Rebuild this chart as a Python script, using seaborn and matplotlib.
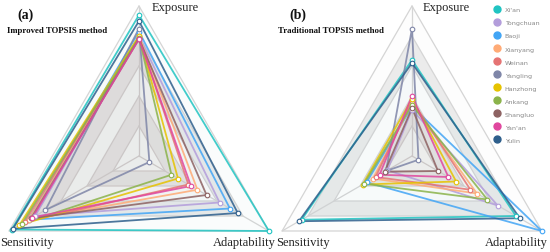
import numpy as np
import pandas as pd
import matplotlib
matplotlib.use("Agg")
import matplotlib.pyplot as plt
import seaborn as sns
from matplotlib.lines import Line2D

sns.set_theme(style="white")

cities = ["Xi'an", "Tongchuan", "Baoji", "Xianyang", "Weinan", "Yangling",
          "Hanzhong", "Ankang", "Shangluo", "Yan'an", "Yulin"]
colors = ["#20c4c2", "#b39ddb", "#42a5f5", "#ffab76", "#e57373", "#7f86a8",
          "#e6c300", "#8bb34a", "#8d6262", "#e0479e", "#2e5f8c"]
dimensions = ["Exposure", "Adaptability", "Sensitivity"]

# (Exposure, Adaptability, Sensitivity)
improved_exposure = [0.94, 0.80, 0.83, 0.80, 0.79, 0.85, 0.80, 0.79, 0.78, 0.78, 0.90]
improved_adapt = [1.00, 0.62, 0.70, 0.45, 0.38, 0.08, 0.30, 0.25, 0.52, 0.40, 0.76]
improved_sens = [0.98, 0.80, 0.85, 0.85, 0.88, 0.72, 0.92, 0.90, 0.83, 0.82, 0.97]

trad_exposure = [0.64, 0.31, 0.33, 0.35, 0.37, 0.85, 0.38, 0.34, 0.32, 0.40, 0.62]
trad_adapt = [0.80, 0.66, 1.00, 0.50, 0.45, 0.05, 0.34, 0.58, 0.20, 0.28, 0.83]
trad_sens = [0.85, 0.19, 0.35, 0.30, 0.28, 0.20, 0.38, 0.37, 0.21, 0.25, 0.87]

grid_levels = [0.2, 0.4, 0.6, 0.8, 1.0]
angles = np.deg2rad([90, -30, 210])

W, H = 550, 253
fig = plt.figure(figsize=(W / 100, H / 100), dpi=100)
R = 150.0


def to_xy(vals):
    v = np.asarray(vals, dtype=float)
    return v * np.cos(angles), v * np.sin(angles)


def make_axes(left_px, center_px, center_y_top):
    ax = fig.add_axes([left_px / W, 0, 275 / W, 1])
    cx = center_px - left_px
    cy = H - center_y_top
    ax.set_xlim(-cx / R, (275 - cx) / R)
    ax.set_ylim(-cy / R, (H - cy) / R)
    ax.set_axis_off()
    return ax


def draw_panel(ax, exp, ada, sen, label_pos):
    prev = 0.0
    for i, lv in enumerate(grid_levels):
        xo, yo = to_xy([lv] * 3)
        xi, yi = to_xy([prev] * 3)
        col = "#ebebeb" if i % 2 == 1 else "#fdfdfd"
        verts_x = np.r_[xo, xo[0], xi[0], xi[::-1]]
        verts_y = np.r_[yo, yo[0], yi[0], yi[::-1]]
        ax.fill(verts_x, verts_y, color=col, lw=0, zorder=0)
        prev = lv
    for lv in grid_levels:
        xs, ys = to_xy([lv] * 3)
        ax.plot(np.r_[xs, xs[0]], np.r_[ys, ys[0]], color="#d5d5d5", lw=0.9, zorder=1)
    for a in angles:
        ax.plot([0, np.cos(a)], [0, np.sin(a)], color="#d5d5d5", lw=0.9, zorder=1)

    for i, city in enumerate(cities):
        xs, ys = to_xy([exp[i], ada[i], sen[i]])
        ax.fill(xs, ys, color=colors[i], alpha=0.012, lw=0, zorder=2)
        df = pd.DataFrame({"x": np.r_[xs, xs[0]], "y": np.r_[ys, ys[0]]})
        sns.lineplot(data=df, x="x", y="y", sort=False, ax=ax, color=colors[i],
                     lw=1.3, alpha=0.85, zorder=3, estimator=None)
        sns.scatterplot(x=xs, y=ys, ax=ax, s=11, facecolor="white",
                        edgecolor=colors[i], linewidth=0.8, zorder=4)
    ax.set_xlabel("")
    ax.set_ylabel("")
    (ex, ey), (sx, sy), (adx, ady) = label_pos
    tk = dict(family="Liberation Serif", fontsize=9, color="#222222")
    ax.text(ex, ey, "Exposure", ha="left", va="center", **tk)
    ax.text(sx, sy, "Sensitivity", ha="center", va="center", **tk)
    ax.text(adx, ady, "Adaptability", ha="center", va="center", **tk)


ax1 = make_axes(0, 139, 157)
draw_panel(ax1, improved_exposure, improved_adapt, improved_sens,
           [(0.087, 0.99), (-0.75, -0.575), (0.70, -0.575)])
ax2 = make_axes(275, 412, 157)
draw_panel(ax2, trad_exposure, trad_adapt, trad_sens,
           [(0.073, 0.99), (-0.727, -0.575), (0.693, -0.575)])

ser = dict(family="Liberation Serif", fontweight="bold", color="#111111")
fig.text(25 / W, 1 - 15 / H, "(a)", ha="center", va="center", fontsize=10, **ser)
fig.text(7 / W, 1 - 31 / H, "Improved TOPSIS method", ha="left", va="center", fontsize=6.3, **ser)
fig.text(298 / W, 1 - 15 / H, "(b)", ha="center", va="center", fontsize=10, **ser)
fig.text(278 / W, 1 - 31 / H, "Traditional TOPSIS method", ha="left", va="center", fontsize=6.3, **ser)

handles = [Line2D([], [], marker="o", ls="", markersize=5, markerfacecolor=c,
                  markeredgecolor=c) for c in colors]
fig.legend(handles, cities, loc="upper left", bbox_to_anchor=(494 / W, 1 - 8 / H),
           frameon=False, prop={"family": "DejaVu Sans", "size": 4.6},
           labelcolor="#888888", labelspacing=1.18, handletextpad=0.7,
           handlelength=1.0, borderaxespad=0, borderpad=0)

fig.savefig("out.png", dpi=100)
